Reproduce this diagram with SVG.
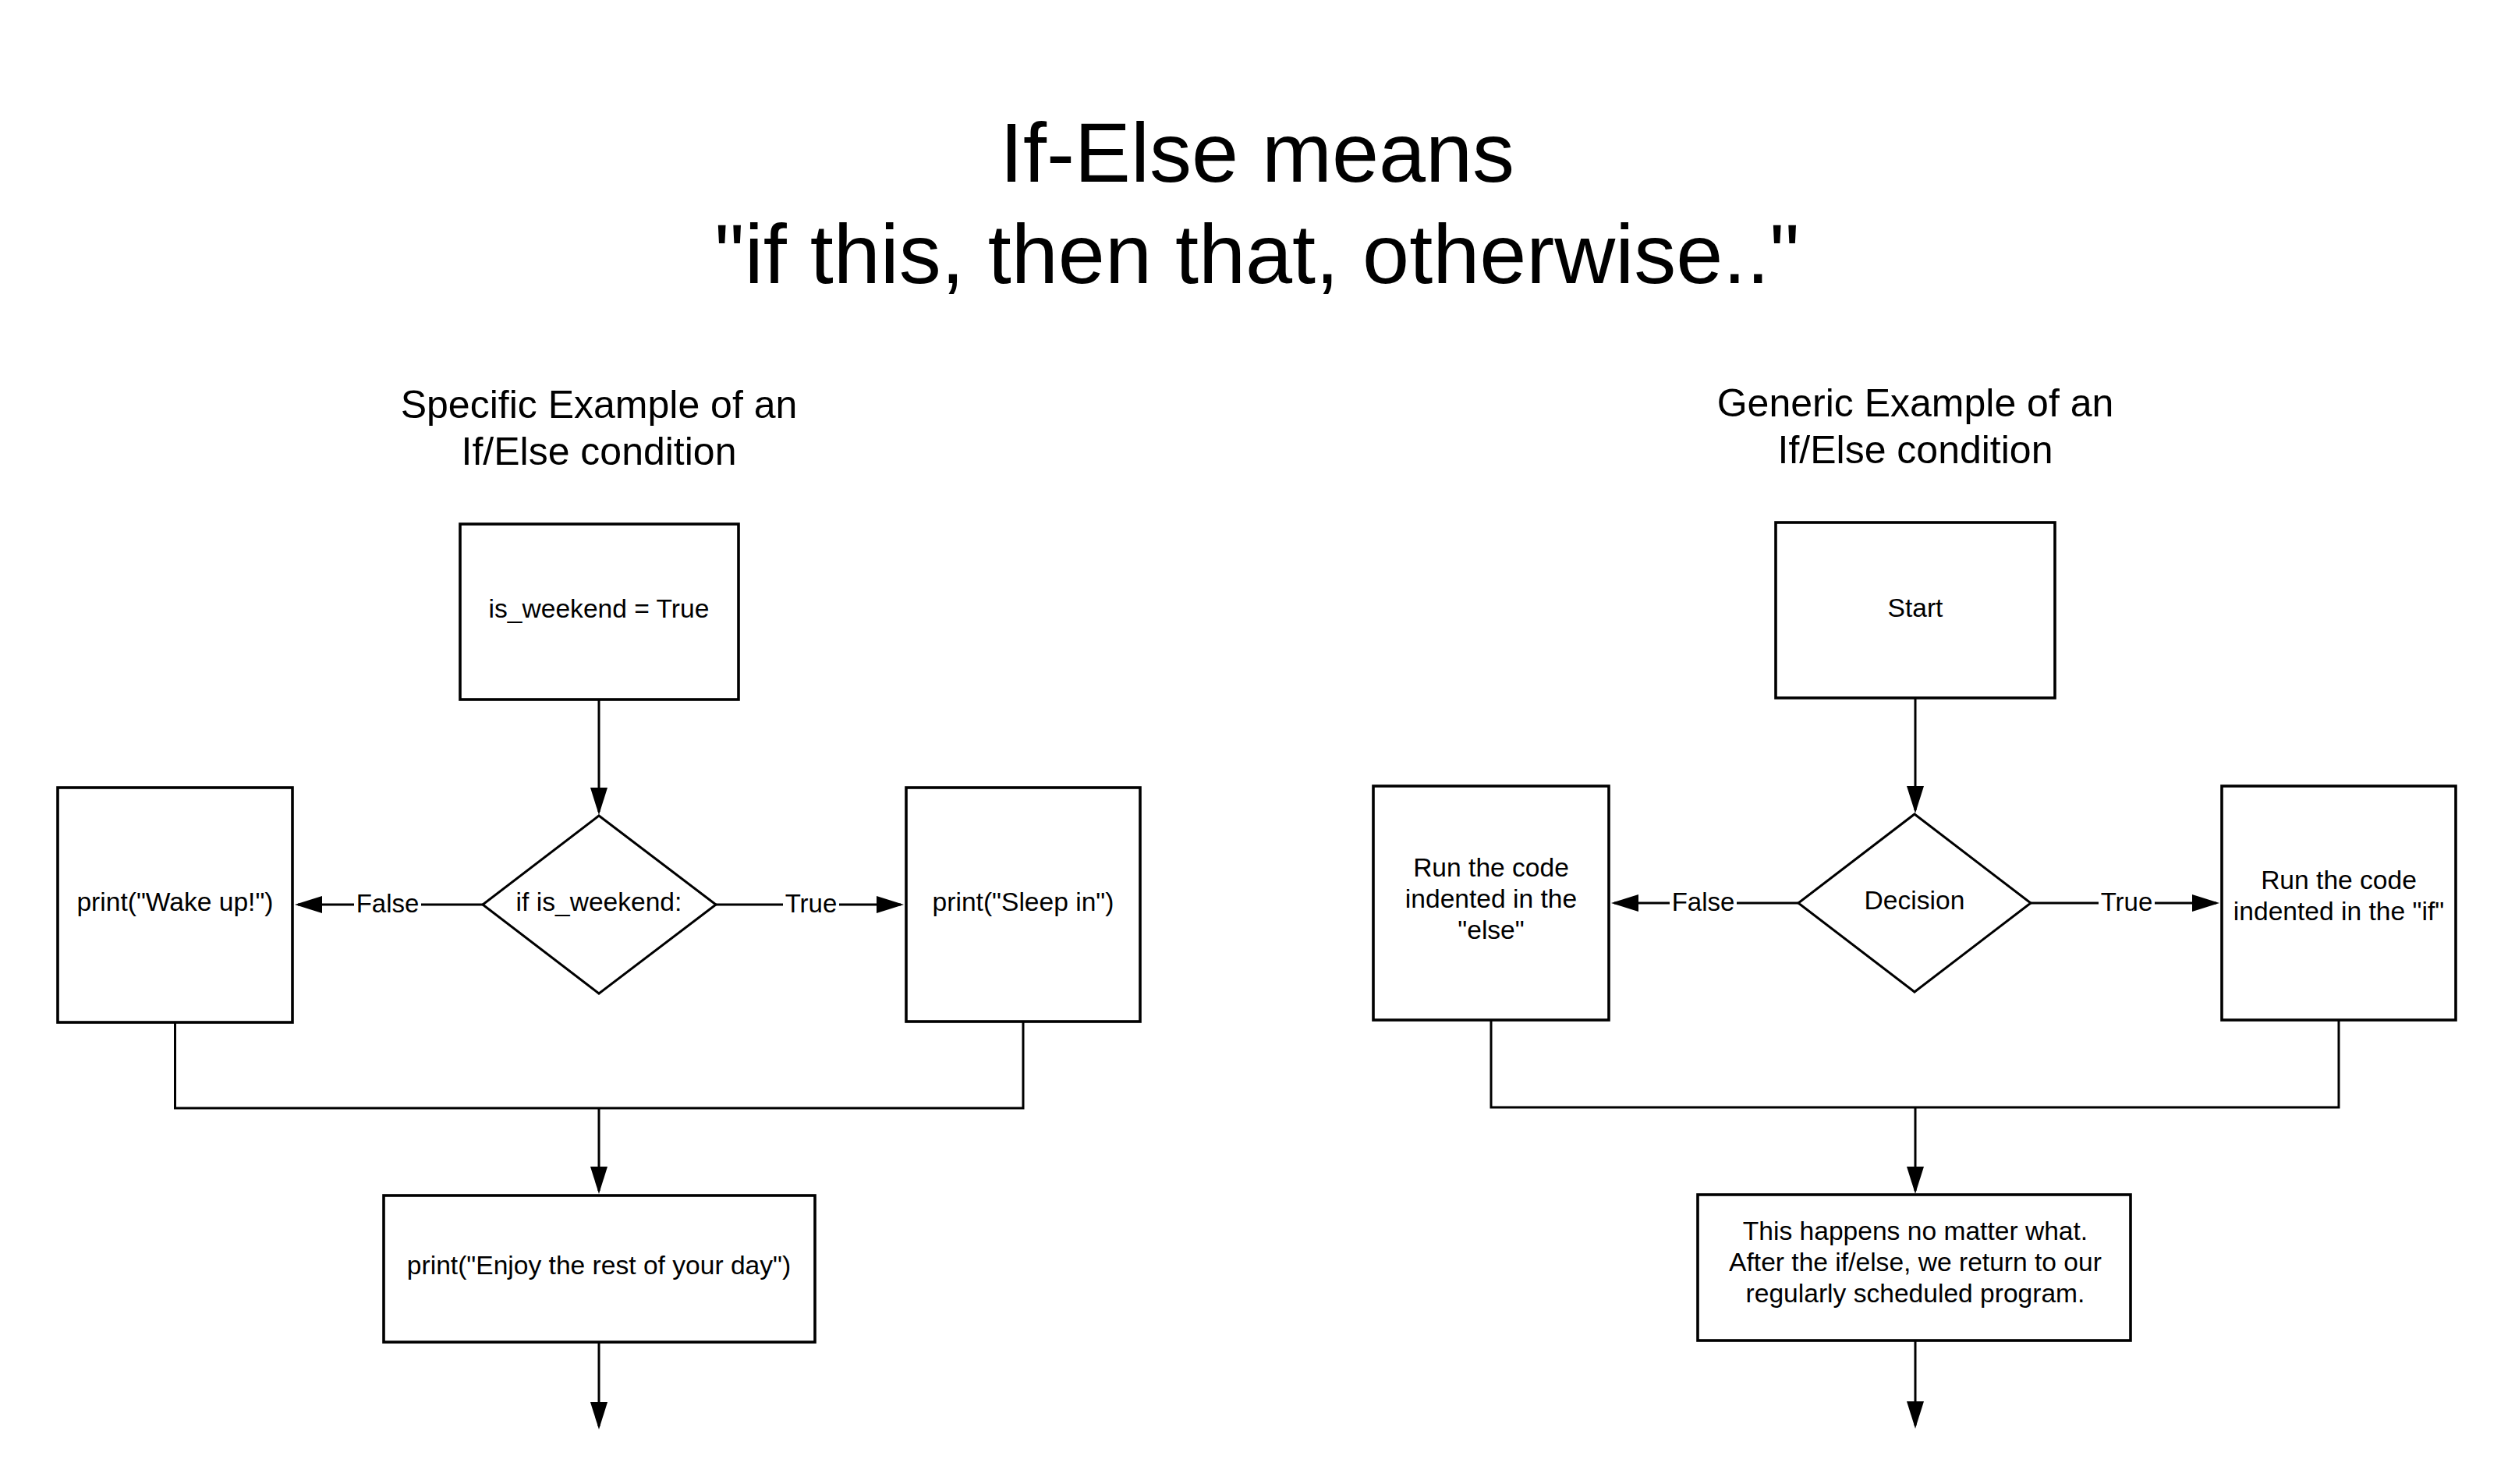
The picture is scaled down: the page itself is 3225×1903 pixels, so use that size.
<svg xmlns="http://www.w3.org/2000/svg" width="3225" height="1903" viewBox="0 0 3225 1903">
<style>
text{font-family:"Liberation Sans",Arial,sans-serif;fill:#000;text-anchor:middle}
.title{font-size:108px}
.sub{font-size:50px}
.nt{font-size:33.6px}
.lbl{font-size:33px}
.box{fill:#fff;stroke:#000;stroke-width:3.6}
.dia{fill:#fff;stroke:#000;stroke-width:3}
.conn{fill:none;stroke:#000;stroke-width:3}
.lblbg{fill:#fff;stroke:none}
</style>
<defs>
<marker id="arr" markerUnits="userSpaceOnUse" markerWidth="36" markerHeight="24" refX="31" refY="11" orient="auto">
<path d="M0,0 L35,11 L0,22 Z" fill="#000"/>
</marker>
</defs>
<rect width="3225" height="1903" fill="#fff"/>
<g id="title">
<text class="title" x="1612" y="233">If-Else means</text>
<text class="title" x="1612" y="363">"if this, then that, otherwise.."</text>
</g>
<g id="subtitle-left">
<text class="sub" x="768" y="536">Specific Example of an</text>
<text class="sub" x="768" y="596">If/Else condition</text>
</g>
<g id="subtitle-right">
<text class="sub" x="2456" y="534">Generic Example of an</text>
<text class="sub" x="2456" y="594">If/Else condition</text>
</g>
<g id="connectors">
<path class="conn" d="M768,897 V1041" marker-end="url(#arr)"/>
<path class="conn" d="M619,1160 H382" marker-end="url(#arr)"/>
<path class="conn" d="M918,1160 H1155" marker-end="url(#arr)"/>
<path class="conn" d="M224.5,1311 V1421 H1312 V1310"/>
<path class="conn" d="M768,1421 V1527" marker-end="url(#arr)"/>
<path class="conn" d="M768,1721 V1829" marker-end="url(#arr)"/>
<path class="conn" d="M2456,895 V1039" marker-end="url(#arr)"/>
<path class="conn" d="M2306,1158 H2070" marker-end="url(#arr)"/>
<path class="conn" d="M2604,1158 H2842" marker-end="url(#arr)"/>
<path class="conn" d="M1912,1308 V1420 H2999 V1308"/>
<path class="conn" d="M2456,1420 V1527" marker-end="url(#arr)"/>
<path class="conn" d="M2456,1719 V1828" marker-end="url(#arr)"/>
<rect class="lblbg" x="454" y="1142" width="86" height="36"/>
<text class="lbl" x="497" y="1170">False</text>
<rect class="lblbg" x="1004" y="1142" width="72" height="36"/>
<text class="lbl" x="1040" y="1170">True</text>
<rect class="lblbg" x="2141" y="1140" width="86" height="36"/>
<text class="lbl" x="2184" y="1168">False</text>
<rect class="lblbg" x="2691" y="1140" width="72" height="36"/>
<text class="lbl" x="2727" y="1168">True</text>
</g>
<g id="node-is-weekend">
<rect class="box" x="590" y="672" width="357" height="225"/>
<text class="nt" x="768" y="792">is_weekend = True</text>
</g>
<g id="node-if-is-weekend">
<polygon class="dia" points="768,1046 918,1160 768,1274 619,1160"/>
<text class="nt" x="768" y="1168">if is_weekend:</text>
</g>
<g id="node-wake-up">
<rect class="box" x="74" y="1010" width="301" height="301"/>
<text class="nt" x="224.5" y="1168">print("Wake up!")</text>
</g>
<g id="node-sleep-in">
<rect class="box" x="1162" y="1010" width="300" height="300"/>
<text class="nt" x="1312" y="1168">print("Sleep in")</text>
</g>
<g id="node-enjoy">
<rect class="box" x="492" y="1533" width="553" height="188"/>
<text class="nt" x="768" y="1634">print("Enjoy the rest of your day")</text>
</g>
<g id="node-start">
<rect class="box" x="2277" y="670" width="358" height="225"/>
<text class="nt" x="2456" y="791">Start</text>
</g>
<g id="node-decision">
<polygon class="dia" points="2455,1044 2604,1158 2455,1272 2306,1158"/>
<text class="nt" x="2455" y="1166">Decision</text>
</g>
<g id="node-else">
<rect class="box" x="1761" y="1008" width="302" height="300"/>
<text class="nt" x="1912" y="1124">Run the code</text>
<text class="nt" x="1912" y="1164">indented in the</text>
<text class="nt" x="1912" y="1204">"else"</text>
</g>
<g id="node-if">
<rect class="box" x="2849" y="1008" width="300" height="300"/>
<text class="nt" x="2999" y="1140">Run the code</text>
<text class="nt" x="2999" y="1180">indented in the "if"</text>
</g>
<g id="node-after">
<rect class="box" x="2177" y="1532" width="555" height="187"/>
<text class="nt" x="2456" y="1590">This happens no matter what.</text>
<text class="nt" x="2456" y="1630">After the if/else, we return to our</text>
<text class="nt" x="2456" y="1670">regularly scheduled program.</text>
</g>
</svg>
